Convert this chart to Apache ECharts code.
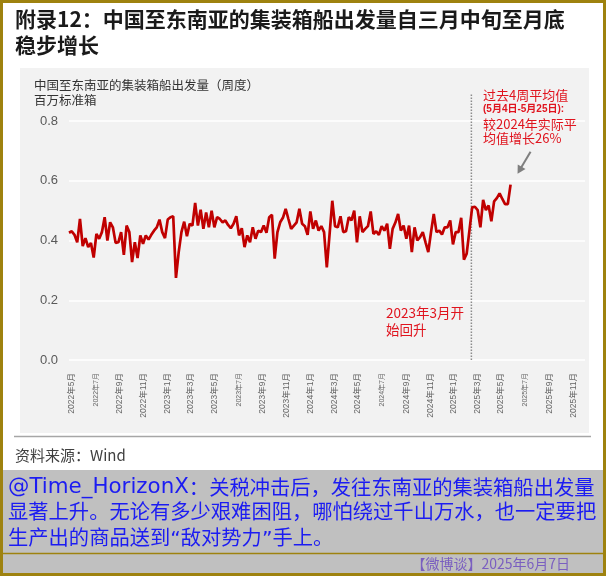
<!DOCTYPE html>
<html><head><meta charset="utf-8">
<script src="https://cdn.jsdelivr.net/npm/echarts@6/dist/echarts.min.js"></script>
<style>html,body{margin:0;padding:0;background:#fff}#c{width:606px;height:576px}</style>
</head><body><div id="c"></div>
<script>
// ---------- data ----------
const firstWeek = '2022-04-24';   // weekly observations (week ending Sunday)
const values = [
  0.426,0.431,0.419,0.394,0.472,0.381,0.408,0.378,0.392,0.343,
  0.422,0.406,0.428,0.478,0.400,0.461,0.444,0.392,0.394,0.428,
  0.352,0.450,0.428,0.328,0.394,0.341,0.417,0.389,0.417,0.403,
  0.419,0.433,0.444,0.470,0.428,0.408,0.470,0.478,0.481,0.275,
  0.361,0.428,0.463,0.414,0.456,0.450,0.526,0.450,0.503,0.439,
  0.494,0.444,0.500,0.444,0.478,0.472,0.461,0.467,0.452,0.441,
  0.456,0.481,0.417,0.441,0.378,0.417,0.394,0.444,0.406,0.433,
  0.428,0.450,0.426,0.478,0.486,0.339,0.428,0.461,0.476,0.506,
  0.472,0.439,0.450,0.461,0.506,0.456,0.448,0.419,0.497,0.439,
  0.467,0.433,0.448,0.428,0.310,0.420,0.533,0.448,0.444,0.481,
  0.428,0.431,0.478,0.467,0.500,0.394,0.481,0.428,0.439,0.448,
  0.497,0.422,0.431,0.419,0.448,0.433,0.456,0.372,0.439,0.460,
  0.489,0.433,0.450,0.406,0.450,0.361,0.444,0.400,0.411,0.428,
  0.394,0.361,0.428,0.489,0.428,0.433,0.420,0.444,0.444,0.467,
  0.387,0.428,0.428,0.476,0.336,0.356,0.433,0.511,0.513,0.502,
  0.444,0.536,0.502,0.517,0.464,0.531,0.542,0.558,0.539,0.522,
  0.522,0.587
];
const tickMonths = [
  '2022-05-01','2022-07-01','2022-09-01','2022-11-01','2023-01-01','2023-03-01',
  '2023-05-01','2023-07-01','2023-09-01','2023-11-01','2024-01-01','2024-03-01',
  '2024-05-01','2024-07-01','2024-09-01','2024-11-01','2025-01-01','2025-03-01',
  '2025-05-01','2025-07-01','2025-09-01','2025-11-01'
];
const axisStart = '2022-04-24';
const axisEnd = '2025-12-01';
const yTicks = [0, 0.2, 0.4, 0.6, 0.8];
const markDate = '2025-02-14';
const markRange = [0, 0.89];

const titleLines = ['附录12：中国至东南亚的集装箱船出发量自三月中旬至月底', '稳步增长'];
const subTitle = ['中国至东南亚的集装箱船出发量（周度）', '百万标准箱'];
const noteRight = ['过去4周平均值', '(5月4日-5月25日):', '较2024年实际平', '均值增长26%'];
const noteMid = ['2023年3月开', '始回升'];
const sourceText = '资料来源：Wind';
const commentHandle = '@Time_HorizonX';
const commentLines = [
  '：关税冲击后，发往东南亚的集装箱船出发量',
  '显著上升。无论有多少艰难困阻，哪怕绕过千山万水，也一定要把',
  '生产出的商品送到“敌对势力”手上。'
];
const stampText = '【微博谈】2025年6月7日';

// ---------- helpers ----------
function toTs(s){ const p = s.split('-').map(Number); return new Date(p[0], p[1]-1, p[2]).getTime(); }
const p0 = firstWeek.split('-').map(Number);
const dateTs = values.map((v,i)=>new Date(p0[0], p0[1]-1, p0[2] + 7*i).getTime());

const CJK = '"Noto Sans CJK SC"';
const SANS = '"Liberation Sans", "Noto Sans CJK SC"';
const RED = '#e0141e';
const BLUE = '#1c1cf2';
const BLUE_FONT = '"DejaVu Sans", "Noto Sans CJK SC"';

const chart = echarts.init(document.getElementById('c'), null, {renderer:'canvas'});

function txt(id, text, x, y, size, color, extra){
  return {type:'text', id:id, z:10, style:Object.assign({
    text:text, x:x, y:y, fill:color, fontSize:size, fontFamily:CJK,
    align:'left', verticalAlign:'middle'
  }, extra||{})};
}

const graphics = [
  {type:'rect', id:'panel', z:-10, shape:{x:20, y:68, width:569, height:365}, style:{fill:'#f2f2f2'}},
  {type:'line', id:'sep', z:-9, shape:{x1:14, y1:436.5, x2:591, y2:436.5}, style:{stroke:'#a6a6a6', lineWidth:1.5}},
  {type:'rect', id:'greyblock', z:-9, shape:{x:3, y:470, width:600, height:103}, style:{fill:'#c0c0c0'}},
  {type:'line', id:'goldline', z:-8, shape:{x1:3, y1:553.5, x2:603, y2:553.5}, style:{stroke:'#9e820f', lineWidth:1.5}},
  {type:'rect', id:'border', z:20, shape:{x:1.5, y:1.5, width:603, height:573}, style:{fill:'none', stroke:'#9e820f', lineWidth:3}},
  txt('t1', titleLines[0], 15, 19, 21, '#1a1a1a', {fontWeight:'bold'}),
  txt('t2', titleLines[1], 15, 45, 21, '#1a1a1a', {fontWeight:'bold'}),
  txt('s1', subTitle[0], 34, 85, 12.5, '#333333'),
  txt('s2', subTitle[1], 34, 100, 12.5, '#333333'),
  txt('n1', noteRight[0], 483, 95, 13, RED),
  txt('n2', noteRight[1], 483, 109.5, 10, RED, {fontWeight:'bold', fontFamily:SANS}),
  txt('n3', noteRight[2], 483, 124, 13, RED),
  txt('n4', noteRight[3], 483, 138.5, 13, RED),
  txt('m1', noteMid[0], 386, 313, 13.5, RED),
  txt('m2', noteMid[1], 386, 330, 13.5, RED),
  txt('src', sourceText, 15, 455, 15, '#404040'),
  txt('c1', '{a|' + commentHandle + '}{b|' + commentLines[0] + '}', 8, 487, 20.3, BLUE, {
    fontFamily:BLUE_FONT,
    rich:{a:{fontSize:21.4, fontFamily:'"DejaVu Sans"', fill:BLUE}, b:{fontSize:20.3, fontFamily:CJK, fill:BLUE}}
  }),
  txt('c2', commentLines[1], 8, 514, 20.3, BLUE, {fontFamily:BLUE_FONT}),
  txt('c3', commentLines[2], 8, 540, 20.3, BLUE, {fontFamily:BLUE_FONT}),
  txt('stamp', stampText, 570, 563.5, 14, '#7a5fc0', {align:'right'})
];

const option = {
  backgroundColor:'#ffffff',
  animation:false,
  grid:{left:69, right:21, top:121, bottom:216},
  xAxis:{
    type:'value', min:toTs(axisStart), max:toTs(axisEnd), scale:true,
    axisLine:{show:false}, axisTick:{show:false}, splitLine:{show:false},
    axisLabel:{
      customValues: tickMonths.map(toTs),
      rotate:90, margin:13, color:'#666666', fontSize:8.5, fontFamily:SANS, hideOverlap:false,
      formatter:function(v){
        const d = new Date(v); const m = d.getMonth()+1;
        const s = d.getFullYear()+'年'+m+'月';
        return m === 7 ? '{s|'+s+'}' : s;
      },
      rich:{s:{fontSize:7, color:'#666666', fontFamily:SANS}}
    }
  },
  yAxis:{
    type:'value', min:yTicks[0], max:yTicks[yTicks.length-1], interval:0.2,
    axisLine:{show:false}, axisTick:{show:false},
    splitLine:{lineStyle:{color:'#ffffff', width:1.5}},
    axisLabel:{formatter:v=>v.toFixed(1), fontSize:13, color:'#595959', margin:11, fontFamily:SANS}
  },
  series:[
    {
      type:'line', name:'出发量', data:dateTs.map((t,i)=>[t, values[i]]),
      showSymbol:false, symbol:'none', z:5,
      lineStyle:{color:'#c00000', width:2.7}, itemStyle:{color:'#c00000'}
    },
    {
      type:'line', name:'mark', data:markRange.map(v=>[toTs(markDate), v]),
      showSymbol:false, symbol:'none', clip:false, silent:true, z:3,
      lineStyle:{color:'#8c8c8c', width:1.5, type:'dotted'}
    }
  ],
  graphic:graphics
};
chart.setOption(option);

// arrow pointing to the last observation
const last = chart.convertToPixel({gridIndex:0}, [dateTs[dateTs.length-1], values[values.length-1]]);
const tip = [last[0]+7, last[1]-11];
const start = [tip[0]+13, tip[1]-22];
const len = Math.hypot(tip[0]-start[0], tip[1]-start[1]);
const d = [(tip[0]-start[0])/len, (tip[1]-start[1])/len];
const n = [-d[1], d[0]];
const hl = 8, hw = 4.5;
chart.setOption({graphic:[
  {type:'line', id:'arrowLine', z:10, shape:{x1:start[0], y1:start[1], x2:tip[0]-d[0]*6, y2:tip[1]-d[1]*6}, style:{stroke:'#7f7f7f', lineWidth:2}},
  {type:'polygon', id:'arrowHead', z:10, shape:{points:[tip, [tip[0]-d[0]*hl+n[0]*hw, tip[1]-d[1]*hl+n[1]*hw], [tip[0]-d[0]*hl-n[0]*hw, tip[1]-d[1]*hl-n[1]*hw]]}, style:{fill:'#7f7f7f'}}
]});
</script>
</body></html>
